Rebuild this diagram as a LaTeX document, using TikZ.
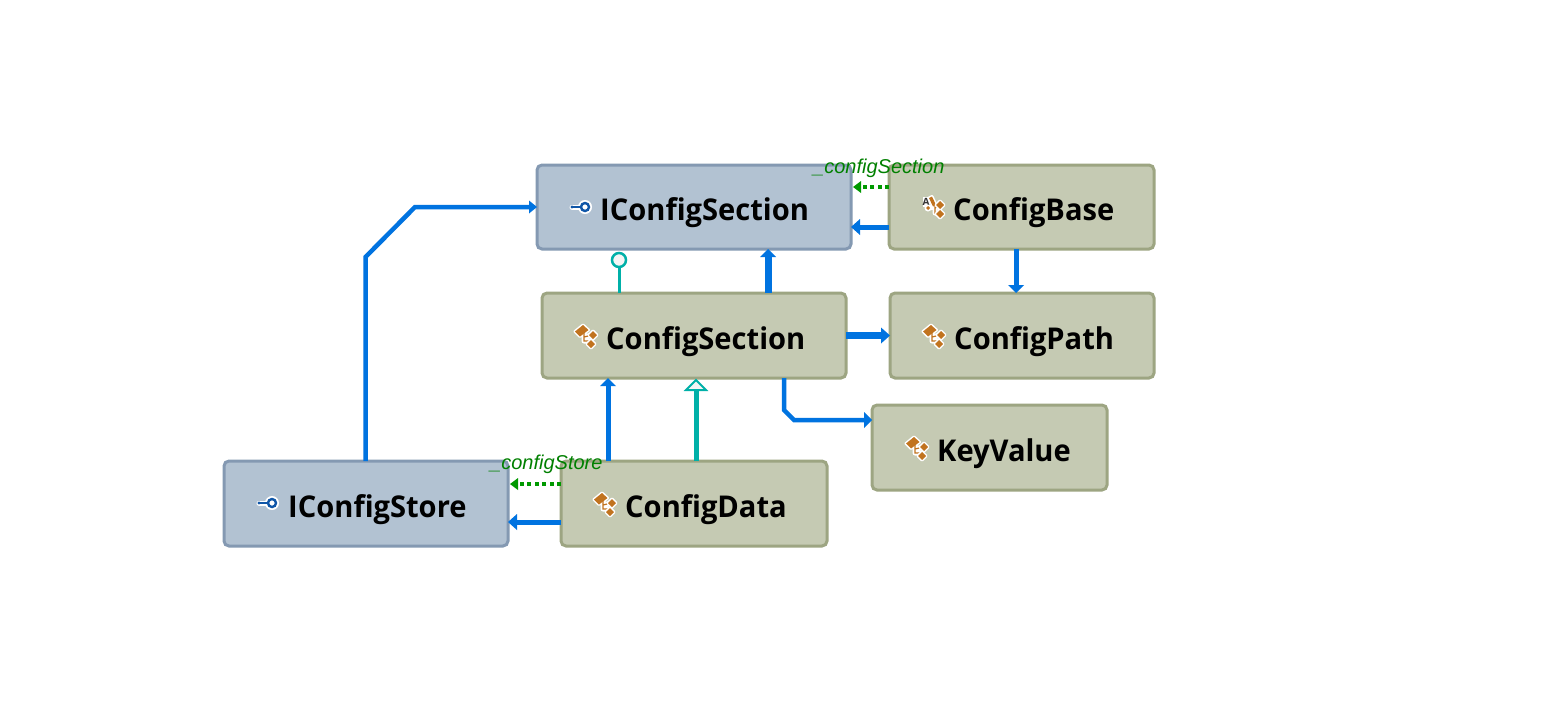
\documentclass[tikz,border=0pt]{standalone}
\usepackage{fontspec}
\setmainfont{Open Sans}
\newfontfamily\boxfont[FakeStretch=0.97]{Open Sans Bold}
\newfontfamily\lblfont[ItalicFont={Liberation Sans Italic}]{Liberation Sans}
\usetikzlibrary{arrows.meta}
\definecolor{ifill}{HTML}{B2C2D2}
\definecolor{iline}{HTML}{8499B2}
\definecolor{cfill}{HTML}{C5CAB3}
\definecolor{cline}{HTML}{9DA582}
\definecolor{dep}{HTML}{0073E0}
\definecolor{teal2}{HTML}{00B0A8}
\definecolor{dotg}{HTML}{009900}
\definecolor{txtg}{HTML}{008000}
\definecolor{icono}{HTML}{C1731F}
\definecolor{iconb}{HTML}{0F56A8}
\tikzset{
  x=1pt,y=-1pt,
  box/.style={draw,line width=3pt,rounded corners=5pt,inner sep=0pt,outer sep=0pt},
  ibox/.style={box,fill=ifill,draw=iline},
  cbox/.style={box,fill=cfill,draw=cline},
  title/.style={anchor=base west,inner sep=0pt,font=\boxfont\fontsize{30}{32}\selectfont,text=black},
  field/.style={anchor=base west,inner sep=0pt,font=\lblfont\itshape\fontsize{20}{22}\selectfont,text=txtg},
  link/.style={draw=dep,line width=#1,-{Triangle[length=9pt,width=16pt,line width=0pt]}},
  link/.default=5pt,
  fieldlink/.style={draw=dotg,line width=3.5pt,dash pattern=on 4pt off 3.5pt,-{Triangle[length=8pt,width=12pt,line width=0pt]}},
  realize/.style={draw=teal2,line width=3pt},
  inherit/.style={draw=teal2,line width=5pt},
  ball/.style={circle,draw=teal2,line width=2.5pt,fill=white!96!black,minimum size=14pt,inner sep=0pt,outer sep=0pt},
  hollow/.style={draw=teal2,line width=2pt,fill=white!96!black},
  classicon/.pic={
    \draw[white,line width=5pt,line cap=round,line join=round] (-2,-3)--(-2,5)--(4,5) (-2,1)--(6,-1);
    \fill[white,draw=white,line width=3pt,line join=round] (-11,-4.5)--(-3,-11)--(2.5,-6)--(-6,0.5)--cycle;
    \fill[icono] (-11,-4.5)--(-3,-11)--(2.5,-6)--(-6,0.5)--cycle;
    \draw[icono,line width=1.2pt] (-2,-3)--(-2,5)--(4,5) (-2,1)--(6,-1);
    \fill[white,draw=white,line width=3pt,line join=round] (7,-5)--(11,-1)--(7,3)--(3,-1)--cycle (5,4)--(9,8)--(5,12)--(1,8)--cycle;
    \fill[icono] (7,-5)--(11,-1)--(7,3)--(3,-1)--cycle (5,4)--(9,8)--(5,12)--(1,8)--cycle;
  },
  abstracticon/.pic={
    \draw[white,line width=5pt,line cap=round,line join=round] (-4,-8)--(1,-2) (1,-2)--(1,5)--(4,5) (-6,0)--(1,-1) (1,0)--(6,-3);
    \fill[white] (-11.5,-11) rectangle (-4,-1.5);
    \fill[white,draw=white,line width=3pt,line join=round] (-5,-10)--(-2,-11.5)--(2,-3)--(-1,-1.5)--cycle;
    \fill[icono] (-5,-10)--(-2,-11.5)--(2,-3)--(-1,-1.5)--cycle;
    \node[inner sep=0pt,font=\fontsize{10}{10}\selectfont\bfseries,text=black!80] (iconA) at (-8,-6.5) {A};
    \fill[white] (-6,0) circle (3.5pt);
    \fill[icono] (-8,0)--(-6,-2)--(-4,0)--(-6,2)--cycle;
    \draw[icono,line width=1.2pt] (1,-2)--(1,5)--(4,5) (1,0)--(6,-3);
    \fill[white,draw=white,line width=3pt,line join=round] (6,-7)--(10,-3)--(6,1)--(2,-3)--cycle (6,2)--(10,6)--(6,10)--(2,6)--cycle;
    \fill[icono] (6,-7)--(10,-3)--(6,1)--(2,-3)--cycle (6,2)--(10,6)--(6,10)--(2,6)--cycle;
  },
  ifaceicon/.pic={
    \draw[white,line width=5pt,line cap=round] (-13,0)--(-3,0);
    \fill[white] (0,0) circle (7pt);
    \draw[iconb,line width=2pt,line cap=round] (-13,0)--(-3,0);
    \fill[iconb] (-13,0) circle (1.6pt);
    \draw[iconb,line width=2.4pt,fill=white] (0,0) circle (4pt);
  }
}
\begin{document}
\begin{tikzpicture}
\useasboundingbox (0,0) rectangle (1546,724);
\fill[white] (0,0) rectangle (1546,724);

% boxes
\node[ibox,minimum width=314pt,minimum height=84pt] (ics) at (694,207) {};
\node[cbox,minimum width=265pt,minimum height=84pt] (cb) at (1021.5,207) {};
\node[cbox,minimum width=304pt,minimum height=85pt] (cs) at (694,335.5) {};
\node[cbox,minimum width=264pt,minimum height=85pt] (cp) at (1022,335.5) {};
\node[cbox,minimum width=235pt,minimum height=85pt] (kv) at (989.5,447.5) {};
\node[ibox,minimum width=284pt,minimum height=85pt] (ist) at (366,503.5) {};
\node[cbox,minimum width=266pt,minimum height=85pt] (cd) at (694,503.5) {};

% titles
\node[title] (tics) at (600,220) {IConfigSection};
\node[title] (tcb) at (953,220) {ConfigBase};
\node[title] (tcs) at (606,349) {ConfigSection};
\node[title] (tcp) at (954,349) {ConfigPath};
\node[title] (tkv) at (937,461) {KeyValue};
\node[title] (tist) at (288,517) {IConfigStore};
\node[title] (tcd) at (625,517) {ConfigData};

% icons
\pic at (585,207) {ifaceicon};
\pic at (272,503) {ifaceicon};
\pic at (586,336) {classicon};
\pic at (934,336) {classicon};
\pic at (917,448) {classicon};
\pic at (605,504) {classicon};
\pic at (934,208) {abstracticon};

% connectors
\coordinate (b1) at (365.5,257);
\coordinate (b2) at (415,207);
\draw[link=4.5pt,-{Triangle[length=8pt,width=13pt,line width=0pt]}] (ist.north -| b1) -- (b1) -- (b2) -- (ics.west |- b2);

\draw[link=5pt] ([yshift=-20pt]cb.west) -- ([yshift=-20pt]ics.east);
\draw[fieldlink] ([yshift=20pt]cb.west) -- ([yshift=20pt,xshift=2pt]ics.east);

\draw[link=5pt,-{Triangle[length=8pt,width=16pt,line width=0pt]}] ([xshift=-5.5pt]cb.south) -- ([xshift=-6pt]cp.north);

\draw[link=7pt,-{Triangle[length=8pt,width=16pt,line width=0pt]}] ([xshift=74pt]cs.north) -- ([xshift=74pt]ics.south);

\node[ball] (lolli) at (619,260) {};
\draw[realize] (cs.north -| lolli) -- (lolli.south);

\draw[link=7pt,-{Triangle[length=9pt,width=16pt,line width=0pt]}] (cs.east) -- (cp.west);

\coordinate (k1) at (784,410);
\coordinate (k2) at (794,420);
\draw[link=4.5pt,-{Triangle[length=8pt,width=16pt,line width=0pt]}] (cs.south -| k1) -- (k1) -- (k2) -- (kv.west |- k2);

\coordinate (d1) at (608,420);
\draw[link=5pt,-{Triangle[length=8pt,width=16pt,line width=0pt]}] (cd.north -| d1) -- (cs.south -| d1);

\coordinate (h1) at (696,380);
\coordinate (h2) at (696,390);
\draw[inherit] (cd.north -| h2) -- (h2);
\draw[hollow] ([xshift=-10pt]h2) -- (h1) -- ([xshift=10pt]h2) -- cycle;

\coordinate (f1) at (535,484);
\draw[fieldlink] (cd.west |- f1) -- ([xshift=2pt]ist.east |- f1);
\coordinate (f2) at (535,522);
\draw[link=5pt,-{Triangle[length=9pt,width=16pt,line width=0pt]}] (cd.west |- f2) -- (ist.east |- f2);

% field labels
\node[field] (lcs) at (813,173) {\_configSection};
\node[field] (lst) at (490,469) {\_configStore};
\end{tikzpicture}
\end{document}
